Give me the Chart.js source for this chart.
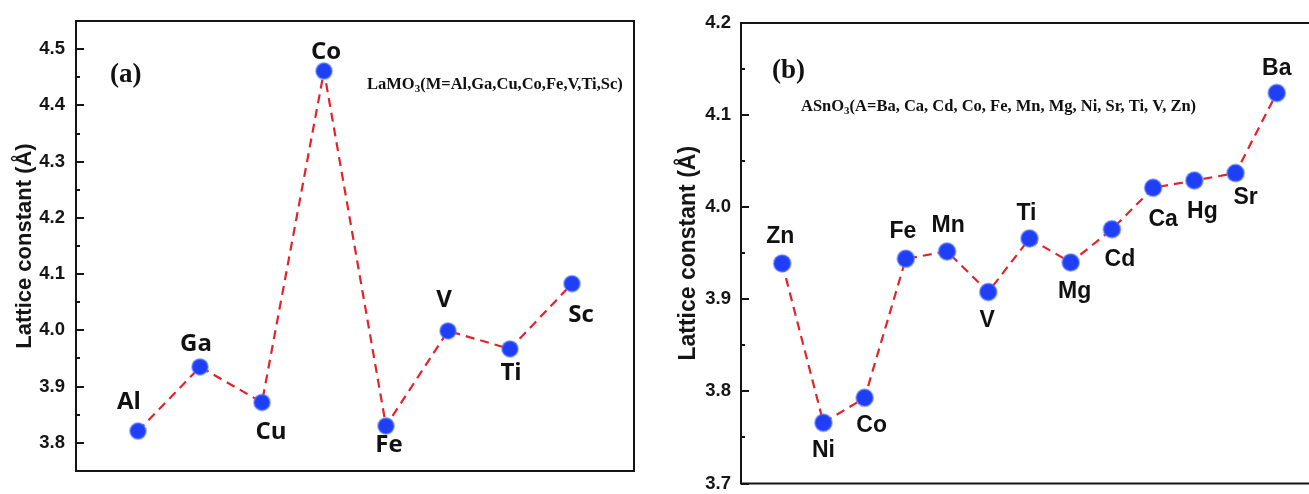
<!DOCTYPE html>
<html><head><meta charset="utf-8">
<script src="https://cdn.jsdelivr.net/npm/chart.js@4/dist/chart.umd.min.js"></script>
<style>
html,body{margin:0;padding:0;background:#fff;overflow:hidden;width:1309px;height:494px;position:relative;}
#wa{position:absolute;left:0;top:0;width:650px;height:494px;}
#wb{position:absolute;left:650px;top:0;width:680px;height:494px;}
</style></head><body>
<div id="wa"><canvas id="ca" width="650" height="494"></canvas></div>
<div id="wb"><canvas id="cb" width="680" height="494"></canvas></div>
<script>
// ---- data ----
const elementsA = ['Al','Ga','Cu','Co','Fe','V','Ti','Sc'];
const latticeA  = [3.821,3.935,3.872,4.461,3.830,3.999,3.967,4.083];
const elementsB = ['Zn','Ni','Co','Fe','Mn','V','Ti','Mg','Cd','Ca','Hg','Sr','Ba'];
const latticeB  = [3.939,3.766,3.793,3.944,3.952,3.908,3.966,3.940,3.976,4.021,4.029,4.037,4.124];
const majorTicksA = [3.8,3.9,4.0,4.1,4.2,4.3,4.4,4.5];
const minorTicksA = [3.85,3.95,4.05,4.15,4.25,4.35,4.45];
const majorTicksB = [3.7,3.8,3.9,4.0,4.1,4.2];
const minorTicksB = [3.75,3.85,3.95,4.05,4.15];
const yTitle = 'Lattice constant (Å)';

// ---- label placement (pixel offsets from each point) ----
const offsA = [[-9,-29],[-4,-23],[9,30],[2,-19],[3,19],[-4,-31],[1,24],[9,31]];
const offsB = [[-2,-27],[0,28],[7,28],[-3,-27],[1,-26],[-1,29],[-3,-25],[4,29],[8,30],[10,32],[8,31],[10,25],[0,-24]];

const frameTicks = {
  id:'frameTicks',
  beforeDatasetsDraw(chart, args, opts){
    const {ctx, chartArea:a} = chart;
    const y = chart.scales.y;
    ctx.save();
    ctx.strokeStyle = '#151515'; ctx.lineWidth = 2;
    ctx.strokeRect(a.left, a.top, a.right-a.left, a.bottom-a.top);
    y.ticks.forEach(t=>{
      const py = Math.round(y.getPixelForValue(t.value));
      const major = opts.majors.some(m=>Math.abs(m-t.value)<1e-6);
      const len = major ? 8 : 4;
      ctx.beginPath(); ctx.moveTo(a.left, py); ctx.lineTo(a.left+len, py); ctx.stroke();
    });
    ctx.restore();
  }
};

const pointLabels = {
  id:'pointLabels',
  afterDatasetsDraw(chart, args, opts){
    const {ctx} = chart;
    const meta = chart.getDatasetMeta(0);
    ctx.save();
    ctx.fillStyle = '#111';
    ctx.font = opts.font;
    ctx.textAlign = 'center'; ctx.textBaseline = 'middle';
    meta.data.forEach((el,i)=>{
      const o = opts.offsets[i];
      ctx.fillText(opts.names[i], el.x+o[0], el.y+o[1]);
    });
    // annotations
    ctx.textAlign = 'left'; ctx.textBaseline = 'alphabetic';
    ctx.font = 'bold 27px "Liberation Serif"';
    ctx.fillText(opts.panel[0], opts.panel[1], opts.panel[2]);
    let x = opts.formula.x; const by = opts.formula.y;
    opts.formula.parts.forEach(p=>{
      ctx.font = 'bold ' + (p.sub ? 11 : 16.5) + 'px "Liberation Serif"';
      ctx.fillText(p.t, x, by + (p.sub ? 3 : 0));
      x += ctx.measureText(p.t).width;
    });
    ctx.restore();
  }
};

function makeChart(id, names, values, majors, minors, ymin, ymax, xmax, pad, axisW, titleFont, titlePad, tickPad, offsets, labelFont, panel, formula, radius){
  const data = values.map((v,i)=>({x:i+1, y:v}));
  return new Chart(document.getElementById(id), {
    type:'line',
    data:{datasets:[{
      data,
      borderColor:'#e3222a', borderWidth:2.2, borderDash:[9,6], tension:0,
      pointRadius:radius, pointHoverRadius:radius,
      pointBackgroundColor:'#1f3ff7', pointBorderColor:'rgba(90,120,255,0.55)', pointBorderWidth:2
    }]},
    options:{
      responsive:false, animation:false, devicePixelRatio:1,
      layout:{padding:pad},
      plugins:{legend:{display:false}, tooltip:{enabled:false},
        frameTicks:{majors},
        pointLabels:{names, offsets, font:labelFont, panel, formula}
      },
      scales:{
        x:{type:'linear', display:false, min:0, max:xmax},
        y:{type:'linear', min:ymin, max:ymax,
          afterBuildTicks(s){ s.ticks = majors.concat(minors).sort((a,b)=>a-b).map(v=>({value:v})); },
          afterFit(s){ s.width = axisW; s.paddingTop = 0; s.paddingBottom = 0; },
          grid:{display:false, drawTicks:false}, border:{display:false},
          ticks:{padding:tickPad, color:'#151515', autoSkip:false,
            font:{family:'Liberation Sans', weight:'bold', size:18.5},
            callback(v){ return majors.some(m=>Math.abs(m-v)<1e-6) ? v.toFixed(1) : ''; }},
          title:{display:true, text:yTitle, color:'#151515', padding:{top:titlePad, bottom:0},
            font:{family:'Liberation Sans', weight:'bold', size:titleFont}}
        }
      }
    },
    plugins:[frameTicks, pointLabels]
  });
}

makeChart('ca', elementsA, latticeA, majorTicksA, minorTicksA, 3.75, 4.55, 9,
  {left:0, right:16, top:21, bottom:23}, 76, 22, 12, 11, offsA,
  'bold 24px "Open Sans"', ['(a)', 110, 82],
  {x:367, y:89, parts:[{t:'LaMO'},{t:'3',sub:true},{t:'(M=Al,Ga,Cu,Co,Fe,V,Ti,Sc)'}]}, 8);

makeChart('cb', elementsB, latticeB, majorTicksB, minorTicksB, 3.7, 4.2, 14,
  {left:0, right:12, top:23, bottom:7}, 91, 23, 25, 10, offsB,
  'bold 23px "Liberation Sans"', ['(b)', 122, 78],
  {x:151, y:111, parts:[{t:'ASnO'},{t:'3',sub:true},{t:'(A=Ba, Ca, Cd, Co, Fe, Mn, Mg, Ni, Sr, Ti, V, Zn)'}]}, 8.5);
</script>
</body></html>
